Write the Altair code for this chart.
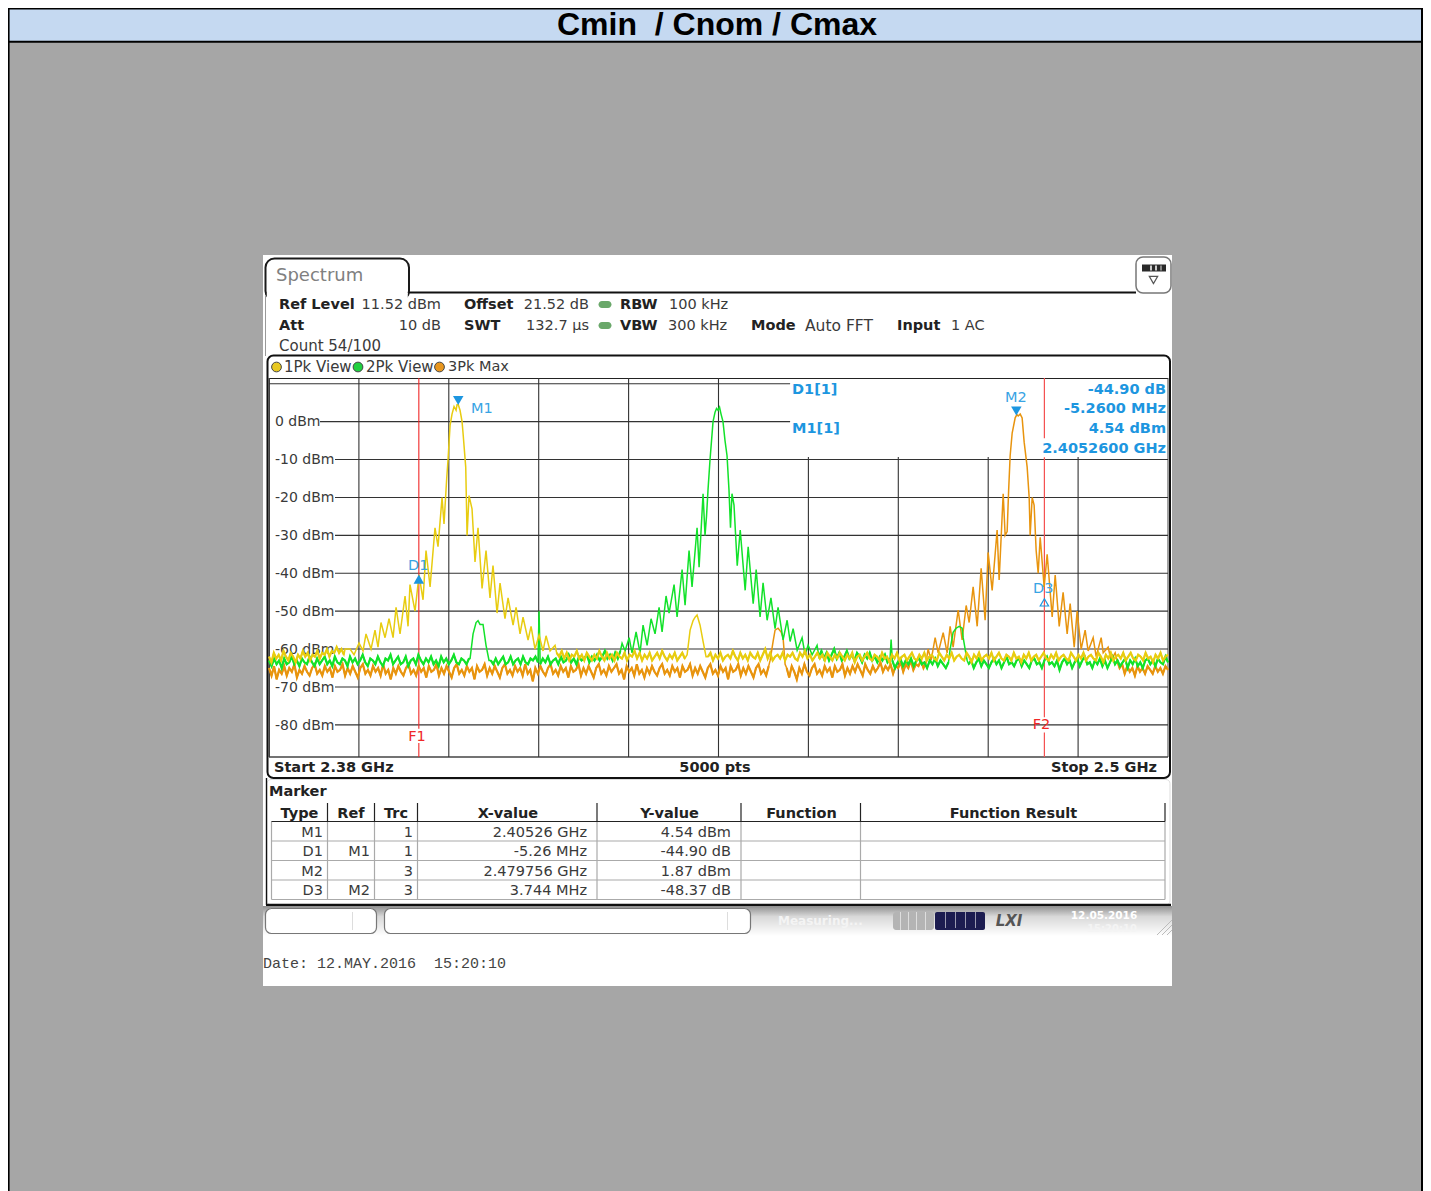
import altair as alt
import numpy as np
import pandas as pd

# ---------- trace data: MHz above 2.38 GHz and dBm ----------
y_noise_a = [-62,-63.5,-61,-62.5,-61.5,-63,-60.5,-62,-63,-61,-62,-63.5,-61.5,-62.5,-60.5,-62,-61,-63,-61.5,-62,-60.5,-62.5,-61,-61.5,-60,-62,-60.5,-61,-59.5,-61,-60,-61.5]
y_peak_f = [10.15,10.81,11.35,12.02,12.55,12.95,13.62,14.15,14.55,14.95,15.49,16.02,16.56,16.96,17.49,18.16,18.56,18.82,19.49,20.03,20.56,20.96,21.5,22.16,22.56,23.1,23.36,23.72,23.9,24.17,24.43,24.7,24.97,25.1,25.26,25.5,25.77,25.9,26.26,26.44,26.7,27.1,27.5,27.9,28.44,28.97,29.5,29.9,30.44,30.84,31.5,31.91,32.58,32.98,33.51,33.91,34.58,34.98,35.51,36.05,36.58,36.98,37.52,38.18]
y_peak_db = [-60,-60,-61.5,-58.4,-60.5,-56,-60,-55,-59.5,-53,-57,-52,-57,-49,-56,-46,-54,-43,-50,-40.4,-47,-34,-43.6,-28,-33,-20,-27,-15,-10,-1,2,4,3,4.5,4.54,3,0,-3,-12,-30,-19.5,-23,-37,-28,-44,-34,-46.5,-38,-50.5,-42.6,-52,-46.5,-53.7,-49,-56,-51.6,-57.6,-54,-60,-56.3,-60.5,-56.5,-60.5,-59]
y_noise_b = [-61,-62,-60.5,-62.5,-61,-63,-61.5,-62,-60.5,-62.5,-61.5,-63,-61,-62,-63,-61.5,-62.5,-60.5,-62,-63,-61,-62.5,-61.5,-63,-61,-62,-62.5,-61,-63,-61.5,-62,-60.5,-62.5,-61,-63,-61.5,-62.5,-61,-63,-62,-61,-62.5,-60.5,-62,-63,-61.5,-62.5,-61,-63,-62,-61,-62.5]
y_small_f = [55.81,56.21,56.61,56.88,57.14,57.54,57.94,58.34]
y_small_db = [-61.5,-55,-52.5,-51.6,-51,-53.7,-58,-62]
y_noise_c = [-62,-61,-63,-61.5,-62.5,-61,-63,-62,-61.5,-62.5,-60.5,-62,-63,-61,-62.5,-61.5,-63,-61,-62,-62.5,-61,-63,-61.5,-60,-62.5,-61,-63,-62,-61.5,-62.5,-61,-63,-61.5,-62,-61,-62.5,-63,-61,-62,-60.5,-62.5,-61.5,-63,-62,-61,-62.5,-61.5,-63,-61,-62,-63,-61.5,-62.5,-61,-62,-63,-61.5,-62.5,-61,-63.5,-62,-61.5,-63,-62,-61,-62.5,-63,-61.5,-62,-63,-61,-62.5,-62,-63.5,-61.5,-62.5,-61,-63,-62,-61.5,-63,-62,-61,-62.5,-63,-61.5,-62.5,-61,-63,-62,-61.5,-62.5,-63,-61,-62,-63,-61.5,-62.5,-61,-63,-62,-61.5,-62.5,-63,-61,-62,-63.5,-61.5,-62.5,-61,-63,-62,-61.5,-62.5,-61,-63,-62,-61,-62.5,-63,-61.5,-62,-63,-61,-62.5,-62,-63.5,-61.5,-62.5,-61,-63,-62,-61.5,-63,-62,-61,-62.5,-63,-61.5,-62.5,-61,-63,-62,-61.5,-62.5,-63,-61,-62,-63,-61.5,-62.5,-61,-63,-62,-61.5,-62.5,-63,-61,-62,-63.5,-61.5,-62.5,-61,-63,-62,-61.5,-62.5,-61,-63,-62,-61,-62.5,-63,-61.5,-62,-63,-61,-62.5,-62,-63.5,-61.5,-62.5,-61,-63,-62,-61.5]

g_noise_a = [-63,-64.5,-62.5,-64,-63,-65,-62.5,-64,-63.5,-62,-64,-63,-64.5,-62.5,-63.5,-64,-62,-63.5,-64.5,-62.5,-64,-63,-62,-64,-63,-64.5,-62,-63.5,-64,-62.5,-63,-64.5,-62,-63.5,-62.5,-64,-63,-61.5,-63.5,-64.5,-62.5,-63,-64,-62,-63.5,-64.5,-62.5,-63,-61.5,-64,-63,-62,-64,-63.5,-62,-64.5,-63,-62.5,-64,-61.5,-63,-64,-62.5,-63.5,-62,-64,-63,-64.5,-62,-63.5,-62.5,-64,-63,-61.5,-63.5,-64,-62.5,-63,-64,-62.5]
g_small_f = [26.84,27.24,27.64,27.9,28.17,28.57,28.97,29.37]
g_small_db = [-62.5,-56,-53,-52.5,-53.5,-53.5,-59,-63]
g_noise_b = [-63,-64,-62.5,-64,-63,-62,-64,-63.5,-62,-64,-63,-62.5,-64,-62,-63.5,-64,-62.5,-63,-62,-63.5]
g_spike_f = [36.05]
g_spike_db = [-50]
g_noise_c = [-64,-62.5,-63.5,-62,-64,-63,-62.5,-64,-62,-63.5,-63,-61.5,-63.5,-62.5,-64,-62,-63,-62.5,-61.5,-63.5,-62,-63,-61.5,-63,-62,-60.5,-62.5,-61.5,-63,-61,-62.5,-60.5]
g_peak_f = [47.13,47.53,48.07,48.46,49.0,49.53,49.93,50.47,51.0,51.53,52.07,52.47,53.0,53.4,54.07,54.47,55.14,55.54,56.07,56.47,57.14,57.41,57.94,58.2,58.4,58.6,58.87,59.27,59.54,59.74,59.94,60.14,60.34,60.6,60.87,61.14,61.4,61.6,61.8,62.07,62.34,62.5,62.9,63.56,63.96,64.63,65.03,65.55,65.95,66.49,67.0,67.55,67.95,68.62,69.16,69.56,69.96,70.5,71.16,71.56,71.96,72.5,73.16]
g_peak_db = [-58.5,-60.5,-57,-61,-55.5,-61,-53.7,-59,-52,-56,-49,-55.5,-46,-50.5,-43,-51.5,-39,-48.4,-34,-43.6,-28,-38.4,-19,-30,-25,-18,-10,0,2.5,3.5,3,3.8,2,0,-5,-9,-18,-28,-19,-22,-32,-38,-28.6,-44.5,-33,-48,-39,-51.5,-42.5,-52.4,-46.5,-54.6,-49,-57.6,-52.4,-58,-54.6,-60.3,-57,-61.5,-59,-61.5,-59]
g_noise_d = [-62,-60.5,-62.5,-61,-63,-61.5,-60,-62.5,-61,-63,-62,-60.5,-62.5,-61.5,-63,-61,-62,-63.5,-61.5,-62.5,-61,-63,-62,-63.5,-62,-63,-61.5,-63.5,-62.5]
g_spike2_f = [83.04]
g_spike2_db = [-57.5]
g_noise_e = [-63,-65,-63.5,-62.5,-64.5,-63,-64,-62.5,-64.5,-63,-62.5,-64,-63.5,-65,-63,-64,-62.5,-64.5,-63,-64,-65,-63.5]
g_small2_f = [90.92,91.32,91.72,92.12,92.52,92.66,92.92,93.19]
g_small2_db = [-60,-55.6,-54.5,-54,-54.5,-57,-60,-63]
g_noise_f = [-64,-63,-65,-63.5,-62.5,-64.5,-63,-64,-65,-63.5,-62.5,-64,-63,-65,-63.5,-62,-64,-63.5,-64.5,-63,-62.5,-64.5,-63,-64,-65,-63,-62.5,-64,-63.5,-65,-63,-62,-64,-63.5,-64.5,-63,-65.5,-63.5,-62.5,-64,-63,-65,-63.5,-62.5,-64.5,-63,-62,-64,-63.5,-65,-63,-64,-62.5,-64.5,-63,-65,-63.5,-62,-64,-63,-64.5,-63.5,-62.5,-65,-63,-64,-62.5,-64.5,-63.5,-65,-63,-62.5,-64,-63,-64.5,-62.5,-63.5,-64,-62,-63.5]

o_noise_a = [-65,-67,-64.5,-68,-65.5,-66.5,-64.5,-67,-65,-66,-64,-67.5,-65.5,-66.5,-64.5,-66,-67,-65,-64,-66.5,-65.5,-67,-64.5,-66,-65,-67.5,-64.5,-66,-65.5,-64,-67,-65,-66.5,-64.5,-66,-67.5,-65,-64,-66.5,-65.5,-67,-64.5,-66,-65,-67,-64,-66.5,-65.5,-68,-65,-66.5,-64.5,-66,-67,-65,-64,-66.5,-65.5,-67,-64.5,-66,-65,-67.5,-64.5,-66,-65.5,-64,-67,-65,-66.5,-64.5,-66,-67.5,-65,-64,-66.5,-65.5,-67,-64.5,-66,-65,-68,-64.5,-66,-65.5,-64,-67,-65,-66.5,-64.5,-66,-67.5,-65,-64,-66.5,-65.5,-67,-64.5,-66,-65,-67,-64,-66.5,-65.5,-68.5,-65,-66.5,-64.5,-66,-67,-65,-64,-66.5,-65.5,-67,-64.5,-66,-65,-67.5,-64.5,-66,-65.5,-64,-67,-65,-66.5,-64.5,-66,-67.5,-65,-64,-66.5,-65.5,-67,-64.5,-66,-65,-64,-66.5,-65.5,-68,-64.5,-66,-65,-67,-64,-66.5,-65.5,-67.5,-65,-66.5,-64.5,-66,-67,-65,-64,-66.5,-65.5,-67,-64.5,-66,-65,-67.5,-64.5,-66,-65.5,-64,-67,-65,-66.5,-64.5,-66,-67.5,-65,-64,-66.5,-65.5,-67,-64.5,-66,-65,-68,-64.5,-66,-65.5,-64,-67,-65,-66.5,-64.5,-66,-67.5,-65,-64,-66.5,-65.5,-67,-64.5]
o_small_f = [66.89,67.29,67.55,67.95,68.36,68.62,68.89]
o_small_db = [-63,-58,-55,-54.5,-55.5,-57,-64]
o_noise_b = [-65,-67.5,-64.5,-66,-68,-65,-66.5,-64,-66,-67,-65,-64,-66.5,-65.5,-67,-64.5,-66,-65,-67.5,-64.5,-66,-65.5,-64,-67,-65,-66.5,-64.5,-66,-64,-65.5,-67,-64,-65.5,-66.5,-64.5,-66,-65,-63.5,-66,-64.5,-65.5,-64,-66.5,-64.5,-65,-63.5,-66,-64,-65,-63,-65.5,-64,-64.5,-63,-65,-63.5]
o_peak_f = [87.98,88.38,88.92,89.32,89.99,90.52,90.92,91.32,91.99,92.52,93.06,93.46,93.99,94.53,95.06,95.59,95.99,96.53,97.19,97.46,98.0,98.26,98.53,98.73,98.93,99.2,99.6,99.83,100.0,100.27,100.53,100.8,101.2,101.47,101.6,101.87,102.13,102.4,102.67,102.94,103.47,103.87,104.54,104.94,105.48,106.0,106.54,106.94,107.48,107.87,108.41,108.94,109.34,110.01,110.41,111.08,111.35,112.01,112.4,112.95]
o_peak_db = [-60,-63,-57,-61,-55.7,-61,-54,-59.5,-49.7,-57.6,-48.5,-53,-43.6,-54,-38.7,-52.4,-34.5,-44.5,-28.6,-41.8,-19,-30,-29,-18,-9,-3,1,1.87,1.5,2,1,-5.4,-12,-20,-30,-20,-22,-34,-40,-30.5,-43.6,-35,-51.5,-40.5,-54,-45,-56,-48,-59.5,-50,-60,-55,-60.5,-57,-62,-57,-61,-59.5,-63,-61]
o_noise_c = [-63,-65,-64,-66.5,-64.5,-66,-65,-67,-64.5,-66,-65,-66.5,-64.5,-65.5,-66.5,-64.5,-66,-65,-66.5,-64.5,-65.5]

grid_v = [0,12,24,36,48,60,72,84,96,108]
grid_h = [10,0,-10,-20,-30,-40,-50,-60,-70,-80]
level_labels = [0,-10,-20,-30,-40,-50,-60,-70,-80]

START = 2.38
def mhz(v):
    return START + np.asarray(v, dtype=float) / 1000

def trace(parts):
    fs, ds, seg_id, noisy = [], [], [], []
    for n, p in enumerate(parts):
        fs.extend(list(p[0])); ds.extend(list(p[1]))
        seg_id.extend([n] * len(p[1]))
        noisy.extend([isinstance(p[0], np.ndarray)] * len(p[1]))
    return pd.DataFrame({"ghz": mhz(fs), "db": ds, "i": range(len(fs)), "part": seg_id, "noisy": noisy})

yellow = trace([(np.linspace(0, 10.0, len(y_noise_a)), y_noise_a), (y_peak_f, y_peak_db),
                (np.linspace(38.4, 55.5, len(y_noise_b)), y_noise_b), (y_small_f, y_small_db),
                (np.linspace(58.6, 120, len(y_noise_c)), y_noise_c)])
green = trace([(np.linspace(0, 26.7, len(g_noise_a)), g_noise_a), (g_small_f, g_small_db),
               (np.linspace(29.6, 35.9, len(g_noise_b)), g_noise_b), (g_spike_f, g_spike_db),
               (np.linspace(36.2, 46.9, len(g_noise_c)), g_noise_c), (g_peak_f, g_peak_db),
               (np.linspace(73.4, 82.9, len(g_noise_d)), g_noise_d), (g_spike2_f, g_spike2_db),
               (np.linspace(83.2, 90.7, len(g_noise_e)), g_noise_e), (g_small2_f, g_small2_db),
               (np.linspace(93.4, 120, len(g_noise_f)), g_noise_f)])
orange = trace([(np.linspace(0, 66.7, len(o_noise_a)), o_noise_a), (o_small_f, o_small_db),
                (np.linspace(69.1, 87.7, len(o_noise_b)), o_noise_b), (o_peak_f, o_peak_db),
                (np.linspace(113.2, 120, len(o_noise_c)), o_noise_c)])

OX, OY = 8, 8
RIGHT = 1423
sx = alt.Scale(domain=[2.38, 2.5], range=[269 - OX, 1168 - OX])
sy = alt.Scale(domain=[-88.48, 11.52], range=[757 - OY, 378 - OY])
X = lambda f: alt.X(f, type="quantitative", scale=sx, axis=None)
Y = lambda f: alt.Y(f, type="quantitative", scale=sy, axis=None)

one = alt.Data(values=[{"k": 1}])
SANS = "DejaVu Sans"
layers = []

def rect(x0, x1, y0, y1, fill="#ffffff", **kw):
    layers.append(alt.Chart(one).mark_rect(color=fill, **kw).encode(
        x=alt.value(x0 - OX), x2=alt.value(x1 - OX), y=alt.value(y0 - OY), y2=alt.value(y1 - OY)))

def seg(x0, y0, x1, y1, color="#222222", w=1):
    layers.append(alt.Chart(one).mark_rule(color=color, strokeWidth=w).encode(
        x=alt.value(x0 - OX), x2=alt.value(x1 - OX), y=alt.value(y0 - OY), y2=alt.value(y1 - OY)))

def text(s, x, y, size=14.5, weight="normal", color="#3a3a3a", align="left", font=SANS, **kw):
    layers.append(alt.Chart(one).mark_text(align=align, baseline="middle", font=font, fontSize=size,
                                           fontWeight=weight, color=color, **kw).encode(
        text=alt.value(s), x=alt.value(x - OX), y=alt.value(y + 0.7 - OY)))

def dot(x, y, size, color, shape="circle", filled=True, stroke=None, w=1):
    kw = dict(shape=shape, size=size, filled=filled, opacity=1)
    if filled:
        kw.update(fill=color)
        if stroke:
            kw.update(stroke=stroke, strokeWidth=w)
        else:
            kw.update(strokeWidth=0)
    else:
        kw.update(stroke=color, strokeWidth=w)
    layers.append(alt.Chart(one).mark_point(**kw).encode(x=alt.value(x - OX), y=alt.value(y - OY)))

# ---------- page ----------
rect(8, RIGHT, 8, 1191, "#A6A6A6")
rect(8, RIGHT, 8, 41, "#C5D9F1")
seg(8, 41.8, RIGHT, 41.8, "#000000", 2)
seg(8, 8.8, RIGHT, 8.8, "#000000", 1.6)
seg(8.8, 8, 8.8, 1191, "#000000", 1.6)
seg(RIGHT - 1, 8, RIGHT - 1, 1191, "#000000", 2)
text("Cmin\u00a0\u00a0/ Cnom / Cmax", 717, 24, size=32, weight="bold", color="#000000", align="center", font="Liberation Sans")

# ---------- instrument screen ----------
rect(263, 1172, 255, 986, "#ffffff")
rect(265.5, 409, 258.5, 300, "#ffffff", stroke="#1a1a1a", strokeWidth=2, cornerRadius=9)
rect(266.8, 407.8, 293, 303, "#ffffff")
seg(409, 292.5, 1136, 292.5, "#111111", 2)
seg(265.5, 296, 265.5, 356, "#999999", 1)
rect(1136, 1171, 257, 293, "#ffffff", stroke="#777777", strokeWidth=1.5, cornerRadius=7)
rect(1142, 1166, 264.5, 271.5, "#2a2a2a")
seg(1151, 265.5, 1151, 270.5, "#cccccc", 2); seg(1156, 265.5, 1156, 270.5, "#cccccc", 2); seg(1161, 265.5, 1161, 270.5, "#888888", 2)
dot(1153.5, 280, 70, "#555555", shape="triangle-down", filled=False, w=1.2)
text("Spectrum", 276, 275.5, size=18, color="#808080")

for s, x, y in [("Ref Level", 279, 304), ("Offset", 464, 304), ("RBW", 620, 304), ("Att", 279, 325),
                ("SWT", 464, 325), ("VBW", 620, 325), ("Mode", 751, 325), ("Input", 897, 325)]:
    text(s, x, y, weight="bold", color="#222222")
for s, x, y in [("11.52 dBm", 441, 304), ("21.52 dB", 589, 304), ("10 dB", 441, 325), ("132.7 µs", 589, 325)]:
    text(s, x, y, align="right")
for s, x, y in [("100 kHz", 669, 304), ("300 kHz", 668, 325), ("1 AC", 951, 325)]:
    text(s, x, y)
text("Auto FFT", 805, 325, size=15.5)
text("Count 54/100", 279, 345, size=15)
rect(598.5, 611.5, 301, 308, "#6aa86a", cornerRadius=3.5)
rect(598.5, 611.5, 322, 329, "#6aa86a", cornerRadius=3.5)

# trace panel
rect(267.5, 1170, 355.5, 778, "#ffffff", stroke="#111111", strokeWidth=2, cornerRadius=6)
seg(269, 378.5, 1168, 378.5, "#222222", 1.2)
seg(269.5, 378, 269.5, 757, "#555555", 1)
seg(269, 757, 1168, 757, "#444444", 1.4)
seg(1168, 378, 1168, 757, "#444444", 1)
for c, x, s, tx in [("#E8C820", 276.5, "1Pk View", 284), ("#20D040", 358, "2Pk View", 366), ("#E8961E", 439.5, "3Pk Max", 448)]:
    dot(x, 367, 95, c, stroke="#444444", w=1)
    text(s, tx, 366, size=15 if "View" in s else 14.5)

# grid: frequency and level scales
lo = {f: (-9.3 if f > 60 else 11.52) for f in grid_v}
vg = pd.DataFrame({"ghz": mhz(grid_v), "a": [-88.48] * len(grid_v), "b": [lo[f] for f in grid_v]})
layers.append(alt.Chart(vg).mark_rule(color="#333333", strokeWidth=1.1).encode(x=X("ghz"), y=Y("a"), y2="b"))
hg = pd.DataFrame({"db": grid_h,
                   "f0": mhz([0 if d == 10 else (6.81 if d == 0 else 8.81) for d in grid_h]),
                   "f1": mhz([69.56 if d >= 0 else 120 for d in grid_h])})
layers.append(alt.Chart(hg).mark_rule(color="#333333", strokeWidth=1.1).encode(x=X("f0"), x2="f1", y=Y("db")))
lab = pd.DataFrame({"db": level_labels, "t": [f"{d} dBm" for d in level_labels]})
layers.append(alt.Chart(lab).mark_text(align="left", baseline="middle", font=SANS, fontSize=14, color="#3a3a3a", yOffset=0.8).encode(
    x=alt.value(275 - OX), y=Y("db"), text="t:N"))

# red frequency lines
red = pd.DataFrame({"ghz": [2.40, 2.40, 2.4835, 2.4835, 2.4835],
                    "a": [-81, -84.8, -4.4, -78, -82], "b": [11.52, -88.48, 11.52, -9.4, -88.48],
                    "w": ["F1", "F1", "F2", "F2", "F2"]})
layers.append(alt.Chart(red[red.w == "F1"]).mark_rule(color="#F02828", strokeWidth=1.1).encode(x=X("ghz"), y=Y("a"), y2="b"))
layers.append(alt.Chart(red[red.w == "F2"]).mark_rule(color="#F45050", strokeWidth=1.2).encode(x=X("ghz"), y=Y("a"), y2="b"))
text("F1", 417, 736, color="#F02828", align="center")
text("F2", 1041.5, 724.5, color="#F02828", align="center")

# traces
for df, c in [(orange, "#E8940E"), (green, "#12E22A"), (yellow, "#E8CC10")]:
    layers.append(alt.Chart(df).mark_line(color=c, strokeWidth=1.5, interpolate="linear").encode(x=X("ghz"), y=Y("db"), order="i:Q"))
    layers.append(alt.Chart(df[df.noisy]).mark_line(color=c, strokeWidth=2.2, interpolate="linear").encode(
        x=X("ghz"), y=Y("db"), detail="part:N", order="i:Q"))

# markers
mk = pd.DataFrame({"ghz": [2.40526, 2.479756, 2.40, 2.4835], "db": [4.54, 1.87, -40.36, -46.5]})
BLUE = "#1D96E0"
for row, shape, off, filled in [(0, "triangle-down", -4, True), (1, "triangle-down", -3.5, True), (2, "triangle-up", 4.5, True), (3, "triangle-up", 4.5, False)]:
    kw = dict(fill=BLUE, strokeWidth=0) if filled else dict(stroke=BLUE, strokeWidth=1.2)
    layers.append(alt.Chart(mk.iloc[[row]]).mark_point(shape=shape, size=110 if filled else 70, filled=filled, opacity=1, yOffset=off, **kw).encode(x=X("ghz"), y=Y("db")))
text("M1", 471, 408.5, color="#38A4E4")
text("M2", 1005, 397.5, color="#38A4E4")
text("D1", 408, 565.5, color="#38A4E4")
text("D3", 1033, 588.5, color="#38A4E4")
for s, y in [("-44.90 dB", 389), ("-5.2600 MHz", 408.5), ("4.54 dBm", 428.5), ("2.4052600 GHz", 448)]:
    text(s, 1166, y, weight="bold", color=BLUE, align="right")
text("D1[1]", 792, 389, weight="bold", color=BLUE)
text("M1[1]", 792, 428.5, weight="bold", color=BLUE)

text("Start 2.38 GHz", 274, 767.5, weight="bold", color="#222222")
text("5000 pts", 715, 767.5, weight="bold", color="#222222", align="center")
text("Stop 2.5 GHz", 1157, 767.5, weight="bold", color="#222222", align="right")

# marker table
rect(267, 1170, 779.5, 905, "#ffffff", stroke="#dddddd", strokeWidth=1, cornerRadius=4)
seg(266, 905, 1171, 905, "#111111", 2.4)
seg(266.5, 778, 266.5, 905, "#111111", 1.4)
text("Marker", 269, 791, weight="bold", color="#222222")
cols = [271.5, 327.5, 374.5, 417.5, 597, 741, 860.5, 1165]
rows = [821.5, 841, 860.5, 880, 899.5]
for x in cols:
    seg(x, 821.5, x, 899.5, "#aaaaaa", 1.2)
for x in cols[1:]:
    seg(x, 803, x, 821.5, "#222222", 1.2)
for y in rows[1:]:
    seg(271.5, y, 1165, y, "#aaaaaa", 1.2)
seg(271.5, rows[0], 1165, rows[0], "#222222", 1.2)
for s, x in [("Type", 299.5), ("Ref", 351), ("Trc", 396), ("X-value", 508), ("Y-value", 669.5), ("Function", 801.5), ("Function Result", 1013.5)]:
    text(s, x, 813, weight="bold", color="#222222", align="center")
table = [("M1", "", "1", "2.40526 GHz", "4.54 dBm"), ("D1", "M1", "1", "-5.26 MHz", "-44.90 dB"),
         ("M2", "", "3", "2.479756 GHz", "1.87 dBm"), ("D3", "M2", "3", "3.744 MHz", "-48.37 dB")]
for r, y in zip(table, [832, 851.5, 871, 890]):
    for s, x in zip(r, [323, 370, 413, 587, 731]):
        if s:
            text(s, x, y, align="right")

# status bar
layers.append(alt.Chart(one).mark_rect(color=alt.LinearGradient(
    gradient="linear", x1=0, x2=0, y1=0, y2=1,
    stops=[alt.GradientStop(offset=0, color="#8f8f8f"), alt.GradientStop(offset=0.35, color="#d8d8d8"), alt.GradientStop(offset=1, color="#ffffff")])).encode(
    x=alt.value(263 - OX), x2=alt.value(1172 - OX), y=alt.value(906 - OY), y2=alt.value(936 - OY)))
rect(265.5, 376.5, 908.5, 933.5, "#ffffff", stroke="#777777", strokeWidth=1.2, cornerRadius=6)
rect(384.5, 750.5, 908.5, 933.5, "#ffffff", stroke="#777777", strokeWidth=1.2, cornerRadius=6)
seg(352.5, 912, 352.5, 930, "#dddddd", 1)
seg(727.5, 912, 727.5, 930, "#dddddd", 1)
text("Measuring...", 778, 920.5, size=12, weight="bold", color="#f4f4f4")
rect(893, 934, 912, 930, "#b4b4b4", cornerRadius=3)
rect(935, 985, 912, 930, "#1c1c50", cornerRadius=2)
for x in [900.5, 908.5, 916.5, 925.5]:
    seg(x, 912, x, 930, "#dedede", 1)
for x in [945.5, 955.5, 965.5, 975.5]:
    seg(x, 912, x, 928, "#9a9ab0", 1)
text("LXI", 1009, 920.5, size=15, weight="bold", color="#555555", align="center", fontStyle="italic")
text("12.05.2016", 1104, 915, size=10.5, weight="bold", color="#ffffff", align="center")
text("15:20:10", 1112, 928, size=10, weight="bold", color="#f4f4f4", align="center")
for d in [5, 10, 15]:
    seg(1172 - d, 935, 1172, 935 - d, "#bbbbbb", 1)

text("Date: 12.MAY.2016\u00a0\u00a015:20:10", 263, 962, size=15, color="#444444", font="Liberation Mono")

chart = alt.layer(*layers).properties(
    width=RIGHT - OX, height=1183, padding=0,
    autosize=alt.AutoSizeParams(type="none"), background="#A6A6A6",
).configure_view(strokeWidth=0)

chart.save("out.html", embed_options={"renderer": "svg", "actions": False})
